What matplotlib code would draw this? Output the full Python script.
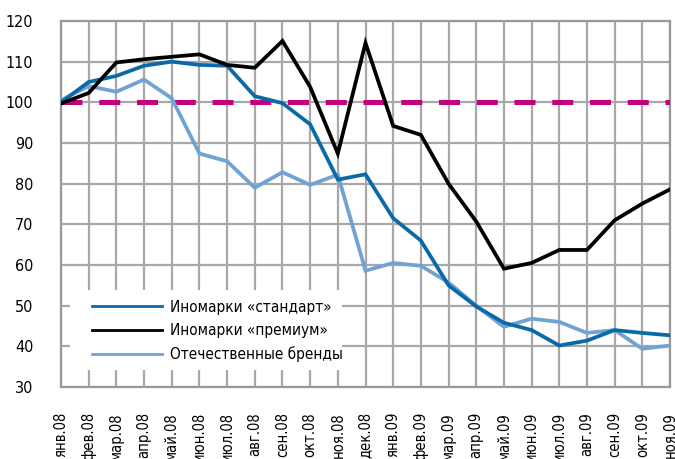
import matplotlib
matplotlib.use("Agg")
import matplotlib.pyplot as plt
from matplotlib.lines import Line2D
from matplotlib.patches import Rectangle

months = ["янв.08", "фев.08", "мар.08", "апр.08", "май.08", "июн.08", "июл.08", "авг.08",
          "сен.08", "окт.08", "ноя.08", "дек.08", "янв.09", "фев.09", "мар.09", "апр.09",
          "май.09", "июн.09", "июл.09", "авг.09", "сен.09", "окт.09", "ноя.09"]

standard = [100, 105, 106.5, 109, 110, 109.2, 109, 101.5, 99.8, 94.6, 81, 82.3, 71.5, 66,
            55, 49.8, 45.8, 44, 40.2, 41.4, 44, 43.3, 42.7]
premium = [99.7, 102.3, 109.8, 110.6, 111.2, 111.8, 109.2, 108.5, 115.1, 103.8, 87.4, 114.6,
           94.2, 92, 80, 70.7, 59.1, 60.5, 63.7, 63.7, 71, 75.1, 78.6]
domestic = [100.5, 104, 102.6, 105.6, 101, 87.4, 85.5, 79, 82.8, 79.7, 82.2, 58.6, 60.5,
            59.8, 55.7, 50, 44.8, 46.8, 46, 43.3, 44, 39.4, 40.2]
reference = 100

series_names = ["Иномарки «стандарт»", "Иномарки «премиум»", "Отечественные бренды"]
colors = ["#0a6aa8", "#000000", "#6fa3d3"]

plt.rcParams["font.family"] = ["DejaVu Sans"]
plt.rcParams["font.stretch"] = "condensed"

W, H = 675, 459
fig = plt.figure(figsize=(6.75, 4.59), dpi=100)
ax = fig.add_axes([61 / W, 1 - 387 / H, 609 / W, 366 / H])

x = list(range(len(months)))
ax.axhline(reference, color="#c4007c", lw=3.6, dashes=(4.2, 3.35), zorder=3)
ax.plot(x, domestic, color=colors[2], lw=2.7, zorder=4, solid_joinstyle="miter")
ax.plot(x, premium, color=colors[1], lw=2.7, zorder=5, solid_joinstyle="miter")
ax.plot(x, standard, color=colors[0], lw=2.7, zorder=4, solid_joinstyle="miter")

ax.set_xlim(0, len(months) - 1)
ax.set_ylim(30, 120)
ax.set_yticks(range(30, 121, 10))
ax.set_xticks(x)
ax.set_xticklabels(months, rotation=90, fontsize=10.5, va="top")
ax.tick_params(axis="y", labelsize=11.5, length=0, pad=20)
ax.tick_params(axis="x", length=0, pad=18)
ax.grid(True, color="#a8a8a8", lw=1.6)
ax.set_axisbelow(True)
for s in ax.spines.values():
    s.set_color("#999999")
    s.set_linewidth(1.6)

# white backing box of the legend (covers the grid only)
ax.add_patch(Rectangle((70 / W, 1 - 370 / H), 272 / W, 80 / H, transform=fig.transFigure,
                       facecolor="white", edgecolor="none", zorder=2.5))

handles = [Line2D([], [], color=c, lw=2) for c in colors]
leg = ax.legend(handles, series_names, loc="center left",
                bbox_to_anchor=(92 / W, 1 - 331 / H), bbox_transform=fig.transFigure,
                frameon=False, fontsize=11, handlelength=4.6, handletextpad=0.5,
                labelspacing=0.55, borderpad=0, borderaxespad=0)
leg.set_zorder(6)

fig.savefig("out.png", dpi=100)
